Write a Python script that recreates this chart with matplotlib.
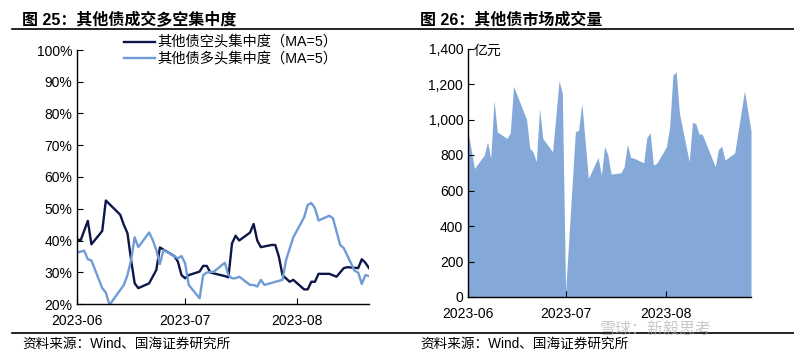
import numpy as np
import pandas as pd
import matplotlib
matplotlib.use("Agg")
import matplotlib.pyplot as plt
import matplotlib.dates as mdates
from matplotlib.ticker import FuncFormatter, MultipleLocator

plt.rcParams['font.family'] = ['Liberation Sans', 'Noto Sans CJK SC', 'DejaVu Sans']

# left chart: concentration (MA=5), %
short_dates = ["2023-06-01", "2023-06-02", "2023-06-04", "2023-06-05", "2023-06-08", "2023-06-09",
               "2023-06-13", "2023-06-14", "2023-06-15", "2023-06-16", "2023-06-17", "2023-06-18",
               "2023-06-21", "2023-06-23", "2023-06-24", "2023-06-28", "2023-06-29", "2023-06-30",
               "2023-07-01", "2023-07-02", "2023-07-05", "2023-07-06", "2023-07-07", "2023-07-08",
               "2023-07-12", "2023-07-13", "2023-07-14", "2023-07-15", "2023-07-16", "2023-07-19",
               "2023-07-20", "2023-07-21", "2023-07-22", "2023-07-25", "2023-07-26", "2023-07-27",
               "2023-07-28", "2023-07-30", "2023-07-31", "2023-08-03", "2023-08-04", "2023-08-05",
               "2023-08-06", "2023-08-07", "2023-08-10", "2023-08-12", "2023-08-14", "2023-08-15",
               "2023-08-18", "2023-08-19", "2023-08-20", "2023-08-21"]
short_vals = [40.4, 40.0, 46.2, 38.8, 43.0, 52.6,
              48.1, 44.9, 42.3, 33.9, 26.5, 25.0,
              26.5, 30.7, 37.8, 35.1, 33.3, 29.1,
              28.1, 29.1, 30.2, 32.0, 32.0, 29.9,
              28.8, 28.4, 39.1, 41.5, 40.0, 42.5,
              45.2, 40.0, 37.9, 38.6, 38.6, 34.9,
              29.1, 27.0, 27.6, 24.6, 24.6, 27.0,
              27.0, 29.5, 29.5, 28.6, 31.3, 31.6,
              31.3, 34.1, 33.0, 31.3]

long_dates = ["2023-06-01", "2023-06-03", "2023-06-04", "2023-06-05", "2023-06-08", "2023-06-09",
              "2023-06-10", "2023-06-14", "2023-06-15", "2023-06-16", "2023-06-17", "2023-06-18",
              "2023-06-21", "2023-06-22", "2023-06-23", "2023-06-24", "2023-06-25", "2023-06-29",
              "2023-06-30", "2023-07-01", "2023-07-02", "2023-07-05", "2023-07-06", "2023-07-07",
              "2023-07-09", "2023-07-12", "2023-07-13", "2023-07-14", "2023-07-15", "2023-07-16",
              "2023-07-19", "2023-07-20", "2023-07-21", "2023-07-22", "2023-07-23", "2023-07-27",
              "2023-07-28", "2023-07-29", "2023-07-31", "2023-08-03", "2023-08-04", "2023-08-05",
              "2023-08-06", "2023-08-07", "2023-08-10", "2023-08-11", "2023-08-13", "2023-08-14",
              "2023-08-17", "2023-08-18", "2023-08-19", "2023-08-20", "2023-08-21"]
long_vals = [36.2, 36.8, 34.1, 33.7, 25.0, 23.6,
             19.7, 26.0, 29.1, 33.9, 41.0, 37.9,
             42.5, 40.2, 37.0, 32.6, 37.0, 34.4,
             35.1, 32.8, 26.0, 21.8, 29.1, 29.9,
             30.2, 33.0, 29.1, 28.1, 28.1, 28.6,
             26.0, 26.0, 25.5, 27.6, 26.0, 27.3,
             27.6, 33.9, 41.0, 47.3, 51.2, 51.8,
             50.2, 46.3, 47.8, 47.0, 38.6, 37.6,
             30.5, 29.9, 26.3, 29.1, 28.8]

# right chart: turnover, 100 million yuan
vol_dates = ["2023-06-01", "2023-06-03", "2023-06-06", "2023-06-07", "2023-06-08", "2023-06-09",
             "2023-06-10", "2023-06-13", "2023-06-14", "2023-06-15", "2023-06-19", "2023-06-20",
             "2023-06-21", "2023-06-22", "2023-06-23", "2023-06-24", "2023-06-27", "2023-06-29",
             "2023-06-30", "2023-07-01", "2023-07-04", "2023-07-05", "2023-07-06", "2023-07-08",
             "2023-07-11", "2023-07-12", "2023-07-13", "2023-07-14", "2023-07-15", "2023-07-18",
             "2023-07-19", "2023-07-20", "2023-07-21", "2023-07-22", "2023-07-25", "2023-07-26",
             "2023-07-27", "2023-07-28", "2023-07-29", "2023-08-01", "2023-08-02", "2023-08-03",
             "2023-08-04", "2023-08-05", "2023-08-08", "2023-08-09", "2023-08-10", "2023-08-11",
             "2023-08-12", "2023-08-16", "2023-08-17", "2023-08-18", "2023-08-19", "2023-08-22",
             "2023-08-25", "2023-08-27"]
vol_vals = [930, 724, 800, 874, 781, 1109,
            930, 893, 925, 1188, 1000, 837,
            818, 762, 1062, 893, 818, 1218,
            1147, 30, 930, 940, 1090, 668,
            786, 687, 848, 800, 692, 700,
            734, 861, 786, 782, 756, 899,
            925, 743, 753, 846, 959, 1250,
            1268, 1034, 762, 983, 978, 918,
            918, 734, 831, 850, 771, 812,
            1161, 936]

month_ticks = ["2023-06-01", "2023-07-01", "2023-08-01"]

dark = "#0E1548"
light = "#6F9BD6"
area = "#84A8D8"

fig = plt.figure(figsize=(7.94, 3.57), dpi=100)

def style_axes(ax):
    for s in ["top", "right"]:
        ax.spines[s].set_visible(False)
    for s in ["left", "bottom"]:
        ax.spines[s].set_linewidth(1.0)
        ax.spines[s].set_color("black")
    ax.tick_params(axis="both", direction="in", length=4, width=0.8, labelsize=10)
    ax.tick_params(axis="x", pad=7)
    ax.set_xticks(pd.to_datetime(month_ticks))
    ax.xaxis.set_major_formatter(mdates.DateFormatter("%Y-%m"))

# left
ax1 = fig.add_axes([77/794, 1-304/357, 292/794, 254/357])
ax1.plot(pd.to_datetime(short_dates), short_vals, color=dark, lw=1.7,
         label="其他债空头集中度（MA=5）")
ax1.plot(pd.to_datetime(long_dates), long_vals, color=light, lw=1.7,
         label="其他债多头集中度（MA=5）")
ax1.set_ylim(20, 100)
ax1.yaxis.set_major_locator(MultipleLocator(10))
ax1.yaxis.set_major_formatter(FuncFormatter(lambda v, p: f"{v:.0f}%"))
ax1.set_xlim(pd.Timestamp("2023-06-01"), pd.Timestamp("2023-08-21"))
style_axes(ax1)
ax1.legend(loc="upper left", bbox_to_anchor=(0.135, 1.085), frameon=False, fontsize=10.3,
           handlelength=2.2, handletextpad=0.15, labelspacing=0.2, borderpad=0)

# right
ax2 = fig.add_axes([468/794, 1-297/357, 283/794, 248.5/357])
vd = pd.to_datetime(vol_dates)
ax2.fill_between(vd, 0, vol_vals, color=area, lw=0)
ax2.set_ylim(0, 1400)
ax2.yaxis.set_major_locator(MultipleLocator(200))
ax2.yaxis.set_major_formatter(FuncFormatter(lambda v, p: f"{v:,.0f}"))
ax2.set_xlim(pd.Timestamp("2023-06-01"), pd.Timestamp("2023-08-27"))
style_axes(ax2)
ax2.text(0.02, 0.99, "亿元", transform=ax2.transAxes, fontsize=10, va="center", ha="left")

# titles, rules, sources
fig.text(22/794, 1-20/357, "图 25：其他债成交多空集中度", fontsize=11.5, fontweight="bold", va="center")
fig.text(420/794, 1-20/357, "图 26：其他债市场成交量", fontsize=11.5, fontweight="bold", va="center")
fig.add_artist(plt.Line2D([12/794, 1], [1-29/357, 1-29/357], color="black", lw=1.2))
fig.add_artist(plt.Line2D([12/794, 1], [1-333/357, 1-333/357], color="black", lw=1.2))
fig.text(22/794, 1-344/357, "资料来源：Wind、国海证券研究所", fontsize=9.8, va="center")
fig.text(420/794, 1-344/357, "资料来源：Wind、国海证券研究所", fontsize=9.8, va="center")
fig.text(600/794, 1-329.5/357, "雪球：新毅思考", fontsize=11.5, color="#b0b0b0", alpha=0.7,
         va="center", family=["Noto Sans CJK SC"])

fig.savefig("out.png", dpi=100)
